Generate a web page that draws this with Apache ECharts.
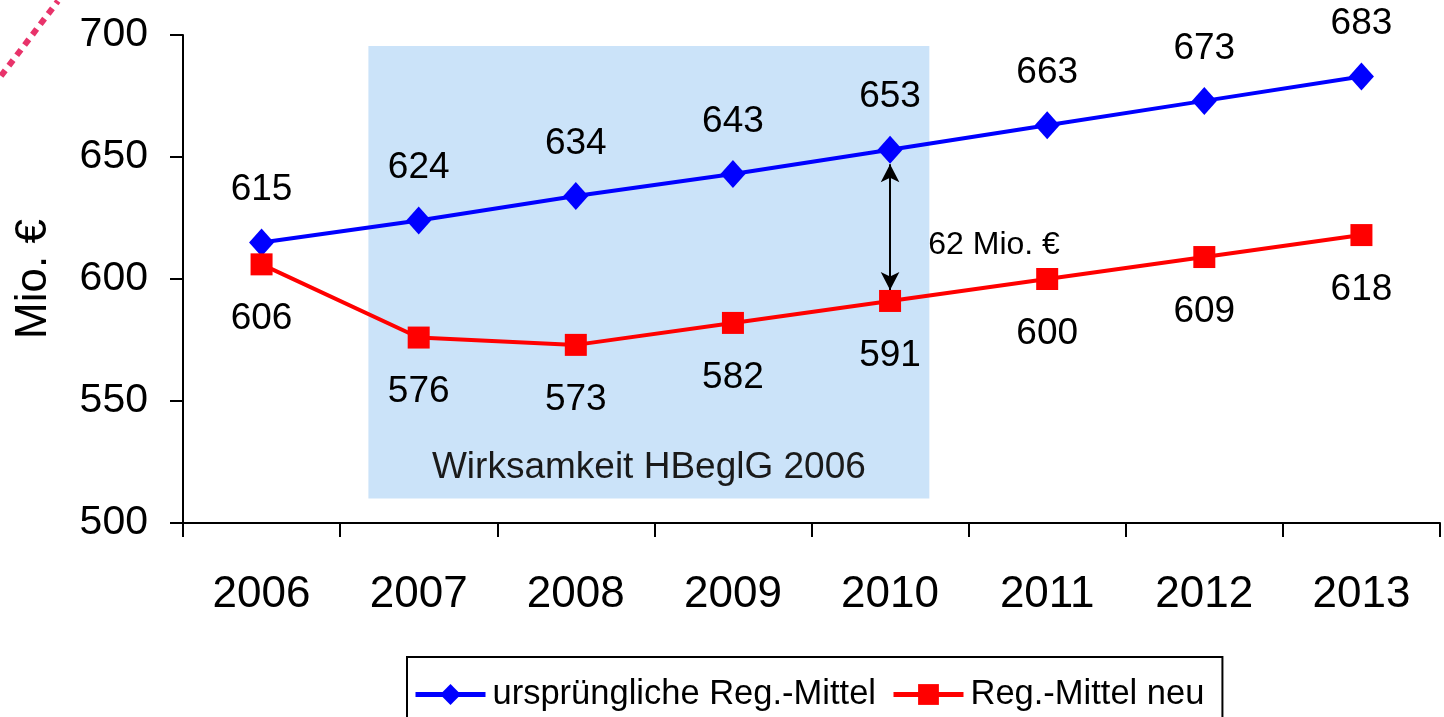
<!DOCTYPE html>
<html lang="de">
<head>
  <meta charset="UTF-8">
  <title>Reg.-Mittel</title>
  <script src="https://cdnjs.cloudflare.com/ajax/libs/echarts/6.0.0/echarts.min.js"></script>
  <style>
    html, body { margin: 0; padding: 0; background: #fff; }
  </style>
</head>
<body>
  <div id="main" style="width: 1444px;height:717px;"></div>
<script type="text/javascript">
  var years = ['2006', '2007', '2008', '2009', '2010', '2011', '2012', '2013'];
  var origValues = [615, 624, 634, 643, 653, 663, 673, 683];
  var newValues = [606, 576, 573, 582, 591, 600, 609, 618];
  // Zeitraum der Wirksamkeit (Kategorie-Index) und Differenzpfeil 2010
  var effectRange = [0.68, 4.25];
  var effectValues = [510, 695.5];
  var gapArrow = [647, 595.5];

  var chart = echarts.init(document.getElementById('main'));
  var font = 'Liberation Sans, Arial, sans-serif';

  var option = {
    animation: false,
    textStyle: { fontFamily: font },
    grid: { left: 183, right: 4, top: 35, bottom: 194, outerBoundsMode: 'none', containLabel: false },
    legend: {
      data: ['ursprüngliche Reg.-Mittel', 'Reg.-Mittel neu'],
      left: 407,
      top: 657,
      itemWidth: 70,
      itemHeight: 26,
      itemGap: 15,
      padding: [20, 18, 40, 6],
      borderColor: '#000',
      borderWidth: 2,
      lineStyle: { width: 5 },
      textStyle: { fontSize: 34.5, color: '#000', fontFamily: font, padding: [0, 0, 0, 2] }
    },
    xAxis: [
      {
        type: 'category',
        data: years,
        axisLine: { lineStyle: { color: '#000', width: 2 } },
        axisTick: { show: true, length: 14, lineStyle: { color: '#000', width: 2 } },
        axisLabel: { color: '#000', fontSize: 44, margin: 50 },
        splitLine: { show: false }
      },
      {
        type: 'value',
        min: -0.5,
        max: 7.5,
        show: false
      }
    ],
    yAxis: {
      type: 'value',
      min: 500,
      max: 700,
      interval: 50,
      name: 'Mio. €',
      nameLocation: 'middle',
      nameGap: 127,
      nameTextStyle: { fontSize: 44, color: '#000' },
      axisLine: { show: true, onZero: false, lineStyle: { color: '#000', width: 2 } },
      axisTick: { show: true, length: 13, lineStyle: { color: '#000', width: 2 } },
      axisLabel: { color: '#000', fontSize: 41, margin: 35 },
      splitLine: { show: false }
    },
    graphic: [{
      type: 'line',
      shape: { x1: 1, y1: 76, x2: 58, y2: 1 },
      style: { stroke: '#E8336A', lineWidth: 6, lineDash: [7, 6] }
    }],
    series: [
      {
        name: 'effect',
        type: 'scatter',
        xAxisIndex: 1,
        data: [],
        z: 1,
        silent: true,
        markArea: {
          silent: true,
          itemStyle: { color: '#CBE3F9' },
          label: {
            show: true,
            position: 'insideBottom',
            distance: 12,
            fontSize: 37,
            color: '#1a1a1a'
          },
          data: [[
            { name: 'Wirksamkeit HBeglG 2006', coord: [effectRange[0], effectValues[0]] },
            { coord: [effectRange[1], effectValues[1]] }
          ]]
        },
        markLine: {
          silent: true,
          symbol: ['arrow', 'arrow'],
          symbolSize: [14, 18],
          lineStyle: { color: '#000', width: 2, type: 'solid' },
          label: { show: false },
          data: [[
            { coord: [4, gapArrow[0]] },
            { coord: [4, gapArrow[1]] }
          ]]
        },
        markPoint: {
          silent: true,
          symbol: 'circle',
          symbolSize: 1,
          itemStyle: { color: 'rgba(0,0,0,0)' },
          label: {
            show: true,
            position: 'right',
            distance: 0,
            fontSize: 32,
            color: '#000',
            formatter: '62 Mio. €'
          },
          data: [{ coord: [4.24, 614] }]
        }
      },
      {
        name: 'ursprüngliche Reg.-Mittel',
        type: 'line',
        data: origValues,
        z: 3,
        symbol: 'diamond',
        symbolSize: [25, 28],
        lineStyle: { color: '#0000FF', width: 4 },
        itemStyle: { color: '#0000FF' },
        label: {
          show: true,
          position: 'top',
          distance: 20,
          fontSize: 37,
          color: '#000'
        }
      },
      {
        name: 'Reg.-Mittel neu',
        type: 'line',
        data: newValues,
        z: 3,
        symbol: 'rect',
        symbolSize: 22,
        lineStyle: { color: '#FF0000', width: 4 },
        itemStyle: { color: '#FF0000' },
        label: {
          show: true,
          position: 'bottom',
          distance: 25,
          fontSize: 37,
          color: '#000'
        }
      }
    ]
  };

  chart.setOption(option);
</script>
</body>
</html>
